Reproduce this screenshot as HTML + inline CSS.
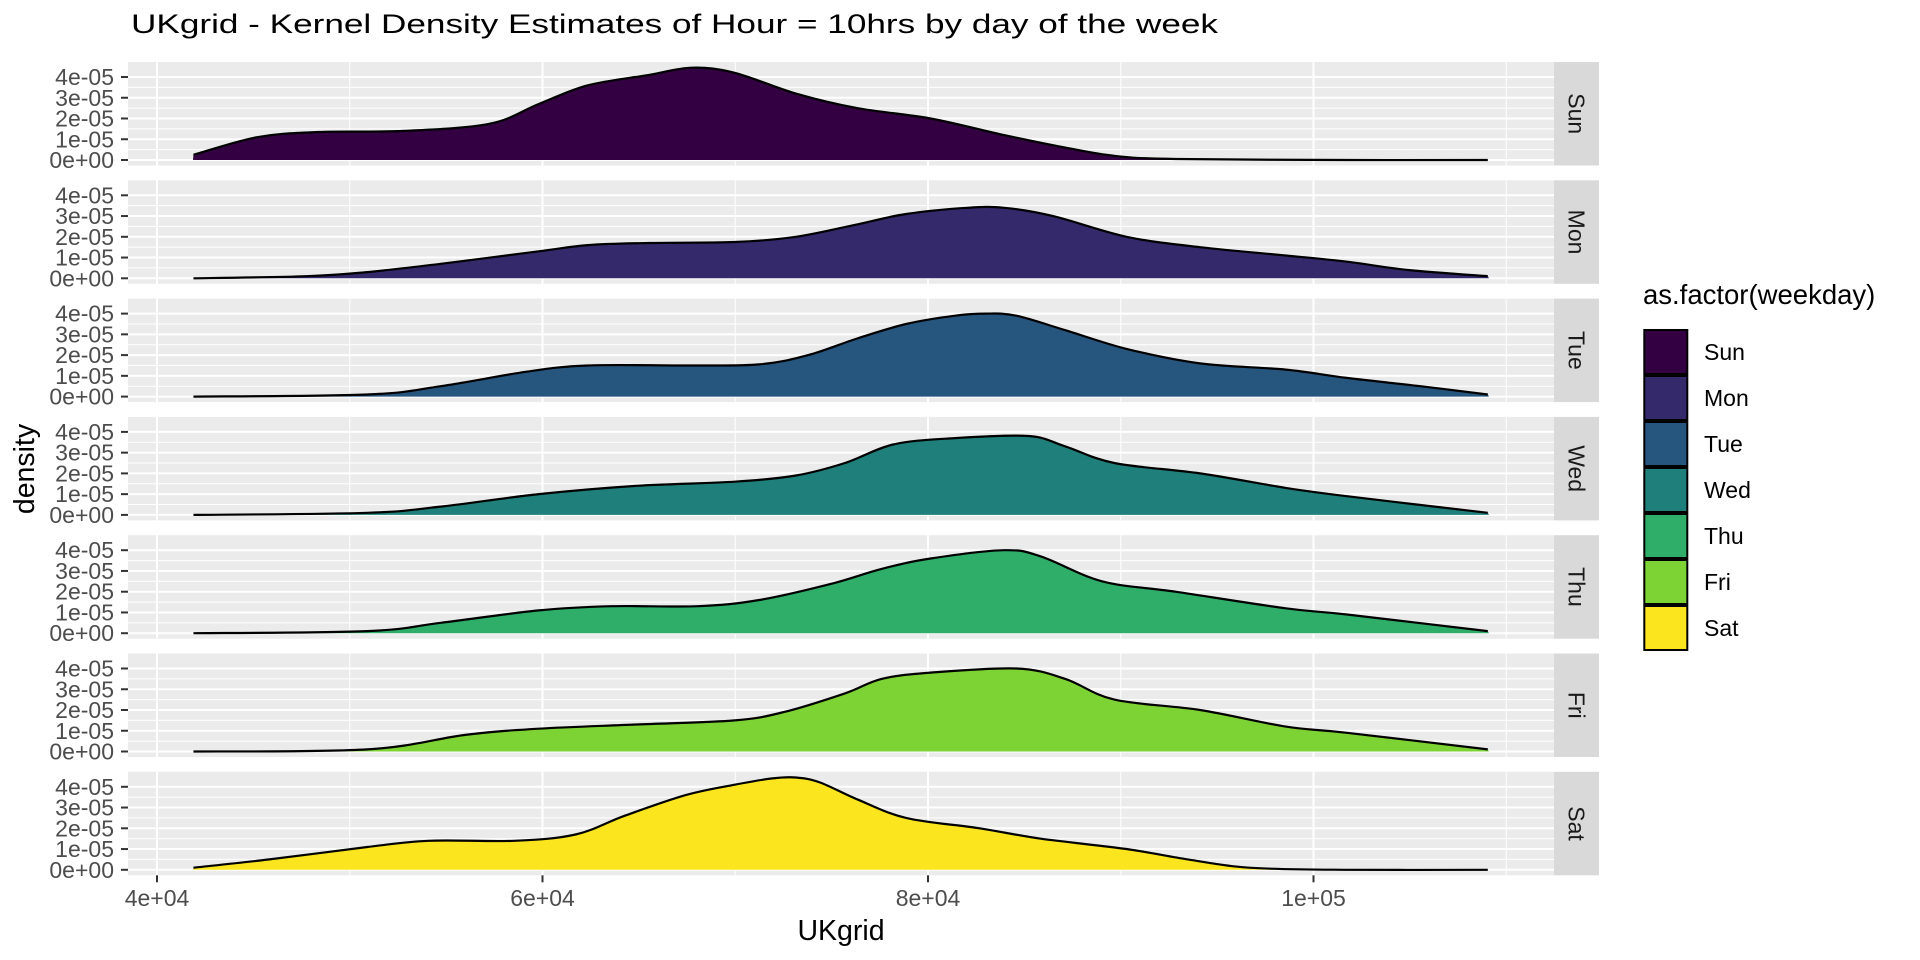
<!DOCTYPE html>
<html><head><meta charset="utf-8"><style>
html,body{margin:0;padding:0;background:#fff;}
svg{display:block;font-family:"Liberation Sans",Arial,sans-serif;}
</style></head><body>
<svg id="s" width="1920" height="960" xmlns="http://www.w3.org/2000/svg">
<text x="131" y="33" font-size="27" fill="#000" textLength="1087" lengthAdjust="spacingAndGlyphs">UKgrid - Kernel Density Estimates of Hour = 10hrs by day of the week</text>
<text x="841" y="940" font-size="28.5" fill="#000" text-anchor="middle">UKgrid</text>
<text transform="translate(34,469) rotate(-90)" font-size="28.5" fill="#000" text-anchor="middle">density</text>
<text x="1643" y="304" font-size="27.5" fill="#000">as.factor(weekday)</text>
<g id="g"></g>
</svg>
<script>
const NS="http://www.w3.org/2000/svg";
const g=document.getElementById('g');
function el(t,a,txt){const e=document.createElementNS(NS,t);for(const k in a)e.setAttribute(k,a[k]);if(txt!==undefined)e.textContent=txt;g.appendChild(e);return e;}
const names=["Sun","Mon","Tue","Wed","Thu","Fri","Sat"];
const cols=["#330042","#34296B","#26557E","#1F7F7A","#2FAE69","#7ED334","#FBE51E"];
const data=[
[[158,0.25],[210,1.1],[260,1.35],[330,1.4],[400,1.75],[440,2.7],[480,3.6],[530,4.1],[565,4.45],[600,4.2],[650,3.2],[700,2.5],[760,2.0],[820,1.2],[870,0.6],[910,0.2],[960,0.05],[1100,0],[1215,0]],
[[158,0],[250,0.1],[300,0.3],[360,0.7],[440,1.3],[480,1.6],[530,1.7],[600,1.75],[650,2.0],[700,2.6],[740,3.1],[790,3.4],[820,3.4],[860,3.0],[920,2.0],[980,1.5],[1050,1.1],[1100,0.8],[1150,0.4],[1215,0.1]],
[[158,0],[300,0.1],[360,0.5],[430,1.2],[480,1.5],[560,1.5],[620,1.55],[660,2.0],[700,2.8],[740,3.5],[780,3.9],[805,4.0],[830,3.9],[870,3.2],[920,2.3],[980,1.6],[1050,1.3],[1100,0.9],[1160,0.5],[1215,0.1]],
[[158,0],[300,0.1],[360,0.4],[440,1.0],[520,1.4],[600,1.6],[650,1.9],[690,2.5],[730,3.4],[780,3.7],[840,3.8],[870,3.3],[910,2.5],[980,2.0],[1050,1.3],[1100,0.9],[1215,0.1]],
[[158,0],[300,0.1],[360,0.5],[440,1.1],[500,1.3],[570,1.3],[620,1.6],[680,2.4],[720,3.1],[760,3.6],[820,4.0],[850,3.7],[900,2.5],[960,2.0],[1050,1.2],[1100,0.9],[1215,0.1]],
[[158,0],[300,0.1],[380,0.8],[440,1.1],[520,1.3],[600,1.5],[640,1.9],[690,2.8],[720,3.5],[760,3.8],[830,4.0],[870,3.5],[910,2.5],[980,2.0],[1050,1.2],[1100,0.9],[1215,0.1]],
[[158,0.1],[220,0.5],[300,1.1],[350,1.4],[420,1.4],[470,1.7],[510,2.6],[560,3.6],[600,4.1],[630,4.4],[650,4.45],[670,4.2],[700,3.4],[740,2.5],[800,2.0],[850,1.5],[920,1.0],[970,0.5],[1020,0.1],[1100,0],[1215,0]]
];
const L=128,R=1554,SR=1599,H=103.5;
const xs=[157,542.5,928,1313.5], xminor=[349.75,735.25,1120.75,1506.25];
function smooth(p){let d="M"+p[0][0]+","+p[0][1];for(let i=0;i<p.length-1;i++){const p0=p[i-1]||p[i],p1=p[i],p2=p[i+1],p3=p[i+2]||p2;const c1=[p1[0]+(p2[0]-p0[0])/6,p1[1]+(p2[1]-p0[1])/6],c2=[p2[0]-(p3[0]-p1[0])/6,p2[1]-(p3[1]-p1[1])/6];d+=" C"+c1[0].toFixed(1)+","+c1[1].toFixed(1)+" "+c2[0].toFixed(1)+","+c2[1].toFixed(1)+" "+p2[0].toFixed(1)+","+p2[1].toFixed(1);}return d;}
for(let i=0;i<7;i++){
 const top=62+118.3*i, base=top+98, u=20.75;
 el('rect',{x:L,y:top,width:R-L,height:H,fill:"#EBEBEB"});
 for(let k=0;k<9;k++){const y=base-k*u/2;el('line',{x1:L,x2:R,y1:y,y2:y,stroke:"#fff","stroke-width":k%2?1:2});}
 xminor.forEach(x=>el('line',{x1:x,x2:x,y1:top,y2:top+H,stroke:"#fff","stroke-width":1}));
 xs.forEach(x=>el('line',{x1:x,x2:x,y1:top,y2:top+H,stroke:"#fff","stroke-width":2}));
 const pts=data[i].map(p=>[Math.min(1489,Math.max(193,p[0]*1.2245)),base-p[1]*u]);
 const d=smooth(pts);
 el('path',{d:d+" L1489,"+base+" L193,"+base+" Z",fill:cols[i]});
 el('path',{d:d,fill:"none",stroke:"#000","stroke-width":2.2});
 el('rect',{x:R,y:top,width:SR-R,height:H,fill:"#D9D9D9"});
 el('text',{transform:"translate("+(R+22.5)+","+(top+H/2)+") rotate(90)","font-size":23,fill:"#1A1A1A","text-anchor":"middle","dominant-baseline":"central"},names[i]);
 ["0e+00","1e-05","2e-05","3e-05","4e-05"].forEach((t,k)=>{const y=base-k*u;el('line',{x1:121,x2:128,y1:y,y2:y,stroke:"#333","stroke-width":2});el('text',{x:114,y:y+8,"font-size":23,fill:"#4D4D4D","text-anchor":"end"},t);});
 const ky=329+46*i;
 el('rect',{x:1644.3,y:ky+1,width:43,height:44,fill:cols[i],stroke:"#000","stroke-width":2});
 el('text',{x:1704,y:ky+31,"font-size":23,fill:"#000"},names[i]);
}
const bot=62+118.3*6+H;
["4e+04","6e+04","8e+04","1e+05"].forEach((t,k)=>{el('line',{x1:xs[k],x2:xs[k],y1:bot,y2:bot+7,stroke:"#333","stroke-width":2});el('text',{x:xs[k],y:906,"font-size":23,fill:"#4D4D4D","text-anchor":"middle"},t);});
</script>
</body></html>
